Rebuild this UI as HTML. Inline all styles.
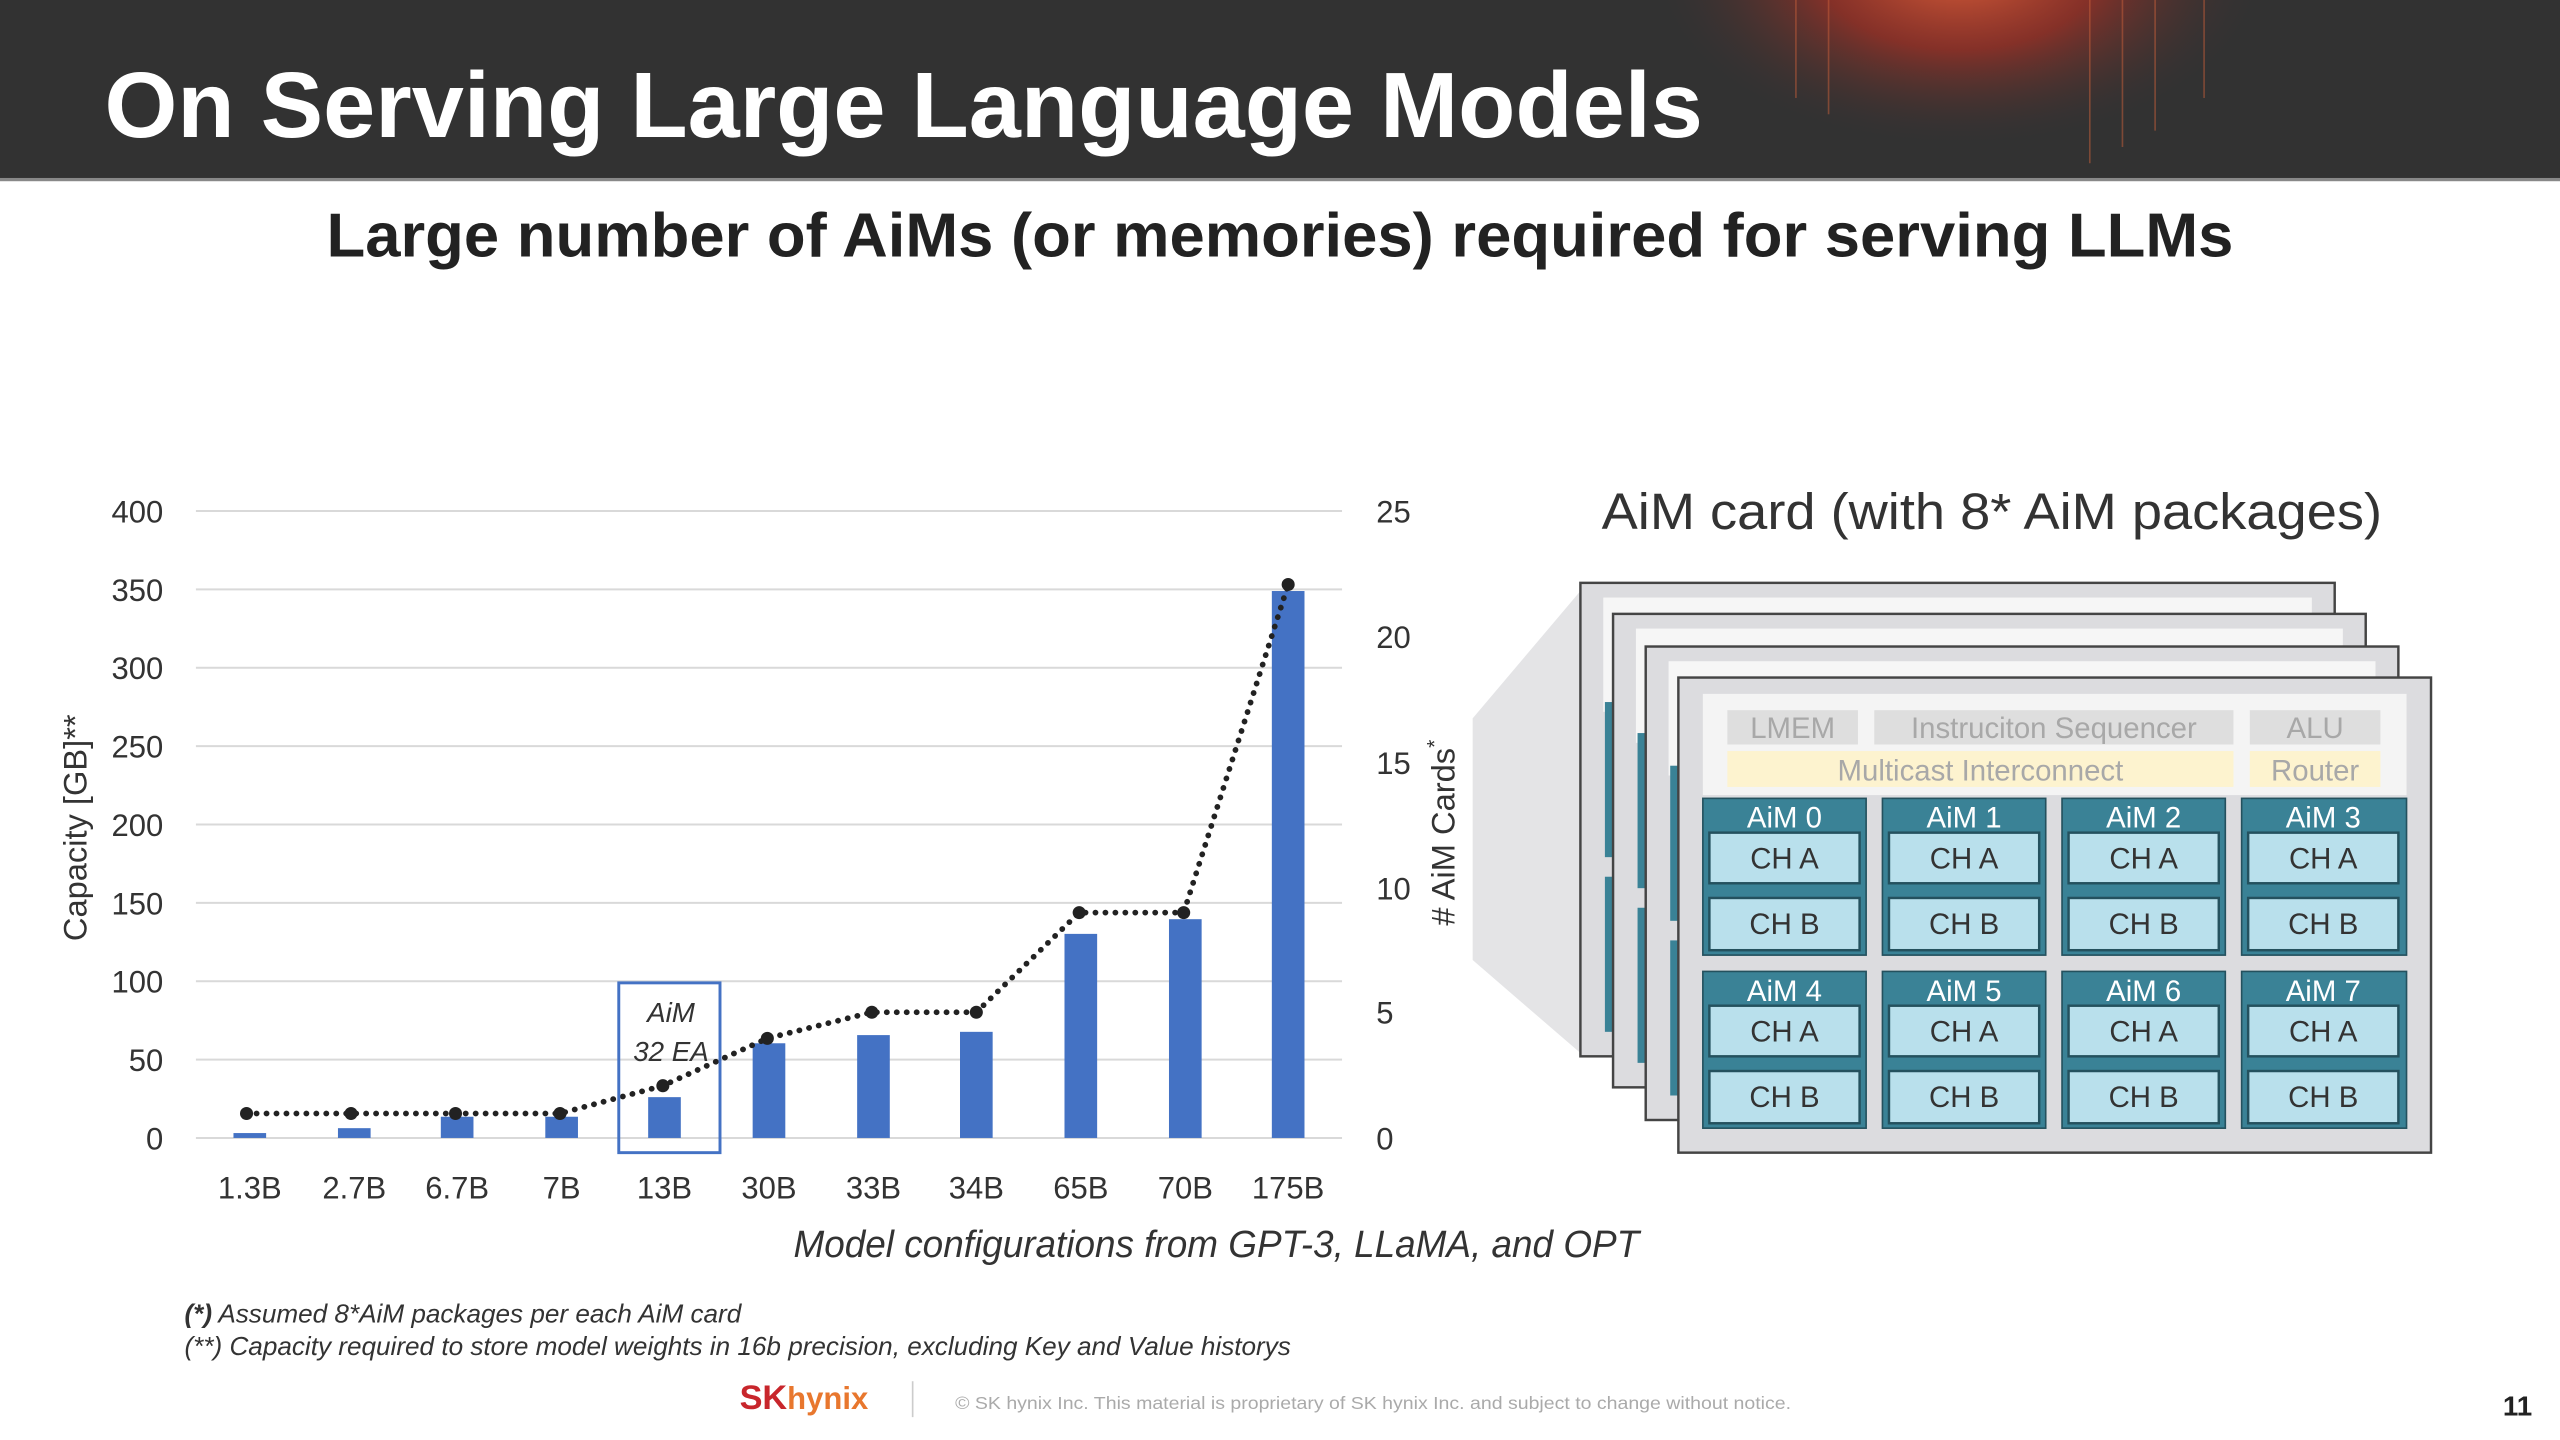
<!DOCTYPE html>
<html><head><meta charset="utf-8"><style>
html,body{margin:0;padding:0;background:#fff;}
svg{display:block;}
text{font-family:"Liberation Sans",sans-serif;}
</style></head><body>
<svg width="2560" height="1440" viewBox="0 0 1568 882" xmlns="http://www.w3.org/2000/svg">
<defs>
<radialGradient id="glow" cx="0.5" cy="0.3" r="0.5">
<stop offset="0" stop-color="#e0603a" stop-opacity="0.95"/>
<stop offset="0.45" stop-color="#a83024" stop-opacity="0.7"/>
<stop offset="1" stop-color="#333" stop-opacity="0"/>
</radialGradient>
</defs>
<!-- header -->
<rect x="0" y="0" width="1568" height="110" fill="#323232"/>
<ellipse cx="1200" cy="25" rx="190" ry="110" fill="url(#glow)"/>
<g stroke="#c8603a" stroke-width="1" opacity="0.5">
<line x1="1100" y1="0" x2="1100" y2="60"/><line x1="1120" y1="0" x2="1120" y2="70"/><line x1="1280" y1="0" x2="1280" y2="100"/><line x1="1300" y1="0" x2="1300" y2="90"/><line x1="1320" y1="0" x2="1320" y2="80"/><line x1="1350" y1="0" x2="1350" y2="60"/>
</g>
<rect x="0" y="109" width="1568" height="2" fill="#888"/>
<text x="64" y="84" font-size="57" font-weight="bold" fill="#fff" textLength="979" lengthAdjust="spacingAndGlyphs">On Serving Large Language Models</text>
<text x="200" y="157" font-size="38" font-weight="bold" fill="#222" textLength="1168" lengthAdjust="spacingAndGlyphs">Large number of AiMs (or memories) required for serving LLMs</text>

<!-- chart grid -->
<g stroke="#d9d9d9" stroke-width="1.2">
<line x1="120" y1="313" x2="822" y2="313"/><line x1="120" y1="361" x2="822" y2="361"/><line x1="120" y1="409" x2="822" y2="409"/><line x1="120" y1="457" x2="822" y2="457"/><line x1="120" y1="505" x2="822" y2="505"/><line x1="120" y1="553" x2="822" y2="553"/><line x1="120" y1="601" x2="822" y2="601"/><line x1="120" y1="649" x2="822" y2="649"/><line x1="120" y1="697" x2="822" y2="697"/>
</g>
<g font-size="19" fill="#333" text-anchor="end">
<text x="100" y="320">400</text><text x="100" y="368">350</text><text x="100" y="416">300</text><text x="100" y="464">250</text><text x="100" y="512">200</text><text x="100" y="560">150</text><text x="100" y="608">100</text><text x="100" y="656">50</text><text x="100" y="704">0</text>
</g>
<g font-size="19" fill="#333">
<text x="843" y="320">25</text><text x="843" y="397">20</text><text x="843" y="474">15</text><text x="843" y="551">10</text><text x="843" y="627">5</text><text x="843" y="704">0</text>
</g>
<text transform="translate(53,507) rotate(-90)" font-size="20" fill="#333" text-anchor="middle">Capacity [GB]**</text>
<text transform="translate(891,507) rotate(-90)" font-size="20" fill="#333" text-anchor="middle">Capacity [GB]</text>
<rect x="870" y="440" width="30" height="135" fill="#fff"/>
<text transform="translate(891,510) rotate(-90)" font-size="20" fill="#333" text-anchor="middle"># AiM Cards<tspan dy="-8" font-size="13">*</tspan></text>
<!-- bars -->
<g fill="#4472c4">
<rect x="143" y="694" width="20" height="3"/><rect x="207" y="691" width="20" height="6"/><rect x="270" y="684" width="20" height="13"/><rect x="334" y="684" width="20" height="13"/><rect x="397" y="672" width="20" height="25"/><rect x="461" y="639" width="20" height="58"/><rect x="525" y="634" width="20" height="63"/><rect x="588" y="632" width="20" height="65"/><rect x="652" y="572" width="20" height="125"/><rect x="716" y="563" width="20" height="134"/><rect x="779" y="362" width="20" height="335"/>
</g>
<polyline points="151,682 215,682 279,682 343,682 406,665 470,636 534,620 598,620 661,559 725,559 789,358" fill="none" stroke="#222" stroke-width="3.5" stroke-dasharray="0.1 6" stroke-linecap="round"/>
<g fill="#222">
<circle cx="151" cy="682" r="4"/><circle cx="215" cy="682" r="4"/><circle cx="279" cy="682" r="4"/><circle cx="343" cy="682" r="4"/><circle cx="406" cy="665" r="4"/><circle cx="470" cy="636" r="4"/><circle cx="534" cy="620" r="4"/><circle cx="598" cy="620" r="4"/><circle cx="661" cy="559" r="4"/><circle cx="725" cy="559" r="4"/><circle cx="789" cy="358" r="4"/>
</g>
<rect x="379" y="602" width="62" height="104" fill="none" stroke="#4472c4" stroke-width="1.8"/>
<text x="411" y="626" font-size="17" font-style="italic" fill="#333" text-anchor="middle">AiM</text>
<text x="411" y="650" font-size="17" font-style="italic" fill="#333" text-anchor="middle">32 EA</text>
<g font-size="19" fill="#333" text-anchor="middle">
<text x="153" y="734">1.3B</text><text x="217" y="734">2.7B</text><text x="280" y="734">6.7B</text><text x="344" y="734">7B</text><text x="407" y="734">13B</text><text x="471" y="734">30B</text><text x="535" y="734">33B</text><text x="598" y="734">34B</text><text x="662" y="734">65B</text><text x="726" y="734">70B</text><text x="789" y="734">175B</text>
</g>
<text x="745" y="770" font-size="23" font-style="italic" fill="#333" text-anchor="middle" textLength="518" lengthAdjust="spacingAndGlyphs">Model configurations from GPT-3, LLaMA, and OPT</text>

<!-- card diagram -->
<text x="981" y="324" font-size="31" fill="#333" textLength="478" lengthAdjust="spacingAndGlyphs">AiM card (with  8* AiM packages)</text>
<polygon points="902,440 968,362 968,645 902,588" fill="#e4e4e6"/>
<g>
<rect x="968" y="357" width="462" height="290" fill="#dcdcdf" stroke="#444" stroke-width="1.5"/>
<rect x="982" y="366" width="434" height="70" fill="#f6f6f6"/>
<rect x="983" y="430" width="6" height="95" fill="#3a8296"/><rect x="983" y="537" width="6" height="95" fill="#3a8296"/>
<rect x="988" y="376" width="461" height="290" fill="#dcdcdf" stroke="#444" stroke-width="1.5"/>
<rect x="1002" y="385" width="433" height="70" fill="#f6f6f6"/>
<rect x="1003" y="449" width="6" height="95" fill="#3a8296"/><rect x="1003" y="556" width="6" height="95" fill="#3a8296"/>
<rect x="1008" y="396" width="461" height="290" fill="#dcdcdf" stroke="#444" stroke-width="1.5"/>
<rect x="1022" y="405" width="433" height="70" fill="#f6f6f6"/>
<rect x="1023" y="469" width="6" height="95" fill="#3a8296"/><rect x="1023" y="576" width="6" height="95" fill="#3a8296"/>
<rect x="1028" y="415" width="461" height="291" fill="#dcdcdf" stroke="#444" stroke-width="1.5"/>
<rect x="1043" y="425" width="431" height="62" fill="#f4f4f4"/>
<rect x="1058" y="435" width="80" height="21" fill="#dedede"/><rect x="1148" y="435" width="220" height="21" fill="#dedede"/><rect x="1378" y="435" width="80" height="21" fill="#dedede"/>
<rect x="1058" y="460" width="310" height="22" fill="#fdf3cf"/><rect x="1378" y="460" width="80" height="22" fill="#fdf3cf"/>
<g font-size="18" fill="#a8a8a8" text-anchor="middle">
<text x="1098" y="452">LMEM</text><text x="1258" y="452">Instruciton Sequencer</text><text x="1418" y="452">ALU</text>
<text x="1213" y="478">Multicast Interconnect</text><text x="1418" y="478">Router</text>
</g>
</g>
<g id="blocks">
<!-- row 1 -->
<g font-size="18" text-anchor="middle">
<rect x="1043" y="489" width="100" height="96" fill="#3a8296" stroke="#24515e"/>
<rect x="1153" y="489" width="100" height="96" fill="#3a8296" stroke="#24515e"/>
<rect x="1263" y="489" width="100" height="96" fill="#3a8296" stroke="#24515e"/>
<rect x="1373" y="489" width="101" height="96" fill="#3a8296" stroke="#24515e"/>
<rect x="1043" y="595" width="100" height="96" fill="#3a8296" stroke="#24515e"/>
<rect x="1153" y="595" width="100" height="96" fill="#3a8296" stroke="#24515e"/>
<rect x="1263" y="595" width="100" height="96" fill="#3a8296" stroke="#24515e"/>
<rect x="1373" y="595" width="101" height="96" fill="#3a8296" stroke="#24515e"/>
<g fill="#fff">
<text x="1093" y="507">AiM 0</text><text x="1203" y="507">AiM 1</text><text x="1313" y="507">AiM 2</text><text x="1423" y="507">AiM 3</text>
<text x="1093" y="613">AiM 4</text><text x="1203" y="613">AiM 5</text><text x="1313" y="613">AiM 6</text><text x="1423" y="613">AiM 7</text>
</g>
<g fill="#b9e0ec" stroke="#24515e" stroke-width="1.5">
<rect x="1047" y="510" width="92" height="31"/><rect x="1157" y="510" width="92" height="31"/><rect x="1267" y="510" width="92" height="31"/><rect x="1377" y="510" width="92" height="31"/>
<rect x="1047" y="550" width="92" height="32"/><rect x="1157" y="550" width="92" height="32"/><rect x="1267" y="550" width="92" height="32"/><rect x="1377" y="550" width="92" height="32"/>
<rect x="1047" y="616" width="92" height="31"/><rect x="1157" y="616" width="92" height="31"/><rect x="1267" y="616" width="92" height="31"/><rect x="1377" y="616" width="92" height="31"/>
<rect x="1047" y="656" width="92" height="32"/><rect x="1157" y="656" width="92" height="32"/><rect x="1267" y="656" width="92" height="32"/><rect x="1377" y="656" width="92" height="32"/>
</g>
<g fill="#333">
<text x="1093" y="532">CH A</text><text x="1203" y="532">CH A</text><text x="1313" y="532">CH A</text><text x="1423" y="532">CH A</text>
<text x="1093" y="572">CH B</text><text x="1203" y="572">CH B</text><text x="1313" y="572">CH B</text><text x="1423" y="572">CH B</text>
<text x="1093" y="638">CH A</text><text x="1203" y="638">CH A</text><text x="1313" y="638">CH A</text><text x="1423" y="638">CH A</text>
<text x="1093" y="678">CH B</text><text x="1203" y="678">CH B</text><text x="1313" y="678">CH B</text><text x="1423" y="678">CH B</text>
</g>
</g>
</g>

<!-- footnotes -->
<text x="113" y="810" font-size="16" font-style="italic" fill="#333"><tspan font-weight="bold">(*)</tspan> Assumed 8*AiM packages per each AiM card</text>
<text x="113" y="830" font-size="16" font-style="italic" fill="#333">(**) Capacity required to store model weights in 16b precision, excluding Key and Value historys</text>
<!-- footer -->
<text x="453" y="863" font-size="21" font-weight="bold" fill="#c8262c">SK<tspan fill="#e8772e" font-size="19">hynix</tspan></text>
<line x1="559" y1="846" x2="559" y2="868" stroke="#ccc" stroke-width="1"/>
<text x="585" y="863" font-size="11" fill="#aaa" textLength="512" lengthAdjust="spacingAndGlyphs">© SK hynix Inc. This material is proprietary of SK hynix Inc. and subject to change without notice.</text>
<text x="1533" y="867" font-size="17" font-weight="bold" fill="#222">11</text>
</svg>
</body></html>
